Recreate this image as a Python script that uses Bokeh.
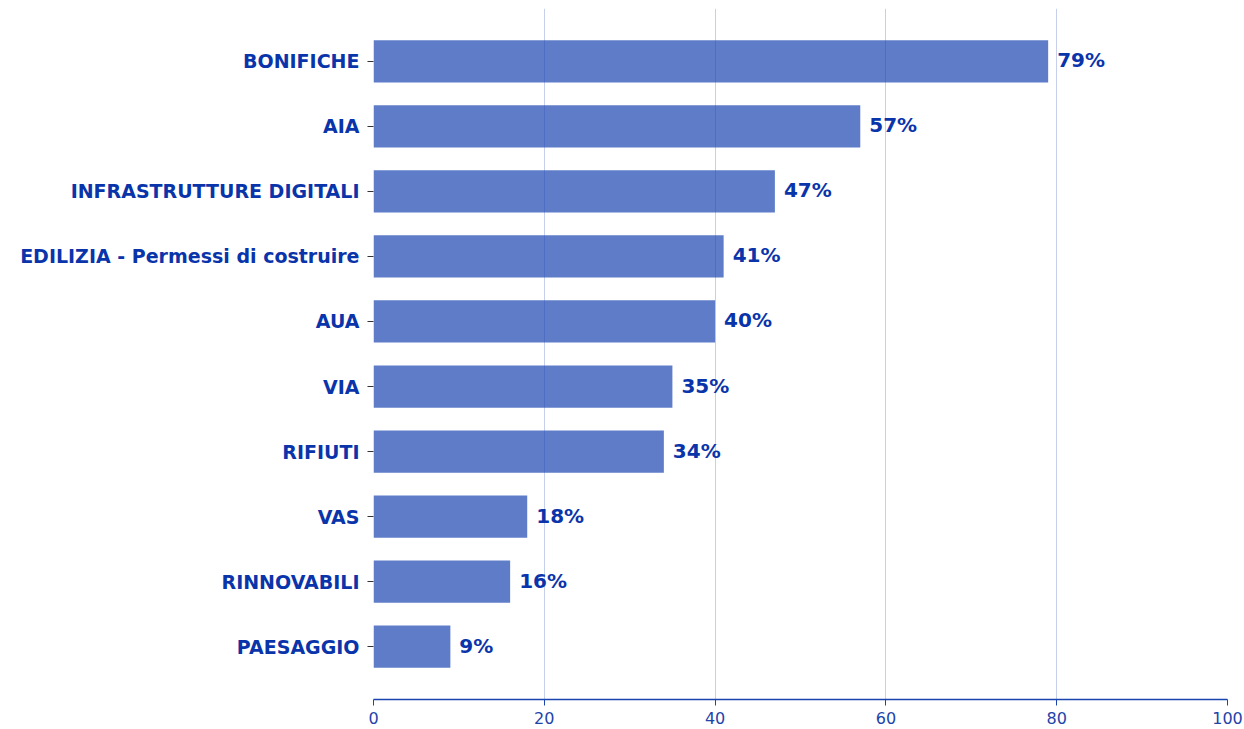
from bokeh.plotting import figure
from bokeh.models import ColumnDataSource, FactorRange, FixedTicker
from bokeh.core.properties import value
from bokeh.embed import file_html
from bokeh.resources import INLINE

categories = ["BONIFICHE", "AIA", "INFRASTRUTTURE DIGITALI", "EDILIZIA - Permessi di costruire",
              "AUA", "VIA", "RIFIUTI", "VAS", "RINNOVABILI", "PAESAGGIO"]
values = [79, 57, 47, 41, 40, 35, 34, 18, 16, 9]
labels = [f"{v}%" for v in values]
x_ticks = [0, 20, 40, 60, 80, 100]

TEXT = "#0a34aa"
BAR = "#1a44b0"
FONT = "DejaVu Sans"

factors = list(reversed(categories))
src = ColumnDataSource(dict(cat=categories, val=values, lab=labels))

p = figure(width=1244, height=729, y_range=FactorRange(factors=factors, range_padding=0.063),
           x_range=(0, 100), output_backend="svg", toolbar_location=None,
           min_border_top=8, min_border_left=373, min_border_right=17, min_border_bottom=30)
p.outline_line_color = None

p.hbar(y="cat", right="val", left=0, height=0.65, source=src,
       fill_color=BAR, fill_alpha=0.7, line_color=None)
p.text(x="val", y="cat", text="lab", source=src, x_offset=9, y_offset=-1,
       text_baseline="middle", text_align="left", text_color=TEXT,
       text_font=value(FONT), text_font_style="bold", text_font_size="20px")

p.xgrid.ticker = FixedTicker(ticks=x_ticks)
p.xgrid.grid_line_color = BAR
p.xgrid.grid_line_alpha = 0.25
p.ygrid.grid_line_color = None

p.xaxis.ticker = FixedTicker(ticks=x_ticks)
p.xaxis.axis_line_color = BAR
p.xaxis.axis_line_width = 1.3
p.xaxis.major_tick_line_color = BAR
p.xaxis.major_tick_out = 6
p.xaxis.major_tick_in = 0
p.xaxis.minor_tick_line_color = None
p.xaxis.major_label_text_color = "#2244aa"
p.xaxis.major_label_text_font = FONT
p.xaxis.major_label_text_font_size = "16px"
p.xaxis.major_label_standoff = 6

p.yaxis.axis_line_color = None
p.yaxis.major_tick_line_color = "#333333"
p.yaxis.major_tick_out = 6
p.yaxis.major_tick_in = 0
p.yaxis.major_label_text_color = TEXT
p.yaxis.major_label_text_font = FONT
p.yaxis.major_label_text_font_style = "bold"
p.yaxis.major_label_text_font_size = "19px"
p.yaxis.major_label_standoff = 8

open("out.html", "w").write(file_html(p, INLINE))
